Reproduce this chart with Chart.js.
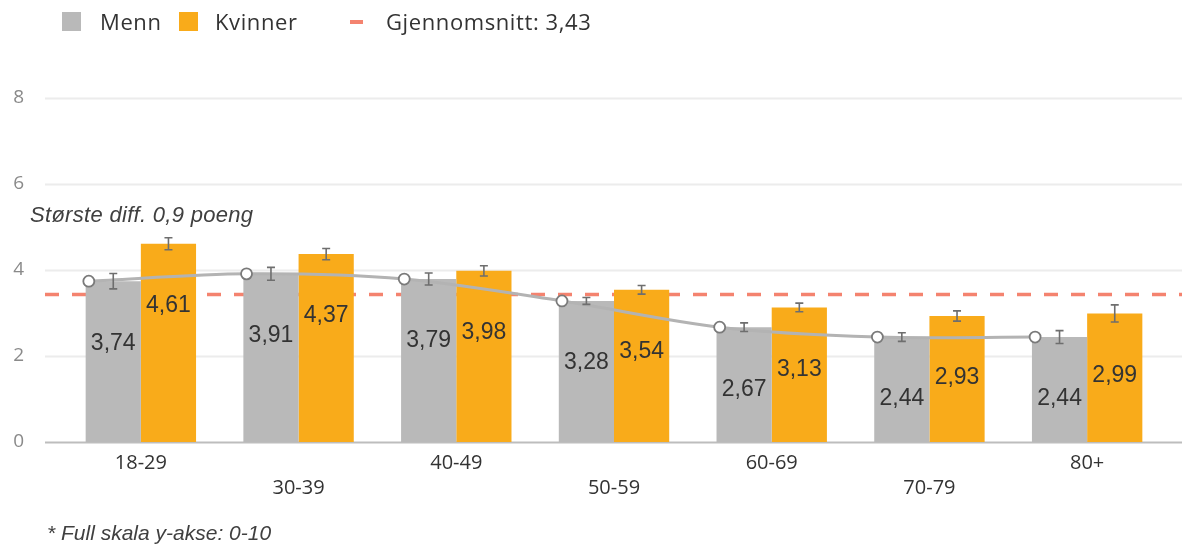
<!DOCTYPE html>
<html>
<head>
<meta charset="utf-8">
<script src="https://cdn.jsdelivr.net/npm/chart.js@4/dist/chart.umd.min.js"></script>
<style>
  html, body { margin: 0; padding: 0; background: #fff; }
  #wrap { position: relative; width: 1183px; height: 547px; overflow: hidden; }
  #chart { position: absolute; left: 0; top: 0; }
  .txt { position: absolute; white-space: nowrap; line-height: 1; color: #333; }
  .legend { font-family: "Open Sans", sans-serif; font-size: 22px; letter-spacing: 0.6px; top: 9.8px; }
  .swatch { position: absolute; top: 12px; width: 19px; height: 19px; }
  .note { font-family: "Liberation Sans", Arial, sans-serif; font-style: italic; font-size: 21px; color: #404040; }
</style>
</head>
<body>
<div id="wrap">
  <canvas id="chart" width="1183" height="547"></canvas>
  <div class="swatch" style="left:62px; background:#b9b9b9;"></div>
  <div class="txt legend" style="left:100px;">Menn</div>
  <div class="swatch" style="left:179px; background:#f9ab1a;"></div>
  <div class="txt legend" style="left:215px;">Kvinner</div>
  <div class="swatch" style="left:350px; top:20px; width:13px; height:3.5px; background:#f4836f;"></div>
  <div class="txt legend" style="left:386px;">Gjennomsnitt: 3,43</div>
  <div class="txt note" style="left:30px; top:203.5px; font-size:22px; letter-spacing:0.3px;">Største diff. 0,9 poeng</div>
  <div class="txt note" style="left:47px; top:522px;">* Full skala y-akse: 0-10</div>
</div>
<script>
const ageGroups = ['18-29', '30-39', '40-49', '50-59', '60-69', '70-79', '80+'];
const menn = [3.74, 3.91, 3.79, 3.28, 2.67, 2.44, 2.44];
const kvinner = [4.61, 4.37, 3.98, 3.54, 3.13, 2.93, 2.99];
const mennErr = [0.18, 0.15, 0.14, 0.08, 0.10, 0.10, 0.15];
const kvinnerErr = [0.14, 0.13, 0.12, 0.10, 0.10, 0.12, 0.20];
const average = 3.43;
const yTicks = [0, 2, 4, 6, 8];

// trend markers sit at the left edge of the grey bars
const lineShift = -0.33;

const GRID_LEFT = 45;
const GRID_RIGHT = 1182;

const fmt = v => v.toFixed(2).replace('.', ',');

// gridlines, base line and the dashed average, all behind the bars
const backdrop = {
    id: 'backdrop',
    beforeDatasetsDraw(chart) {
        const ctx = chart.ctx;
        const y = chart.scales.y;
        ctx.save();
        yTicks.forEach(t => {
            const py = Math.round(y.getPixelForValue(t)) + 0.5;
            ctx.strokeStyle = t === 0 ? '#bdbdbd' : '#ececec';
            ctx.lineWidth = 2;
            ctx.beginPath();
            ctx.moveTo(GRID_LEFT, py);
            ctx.lineTo(GRID_RIGHT, py);
            ctx.stroke();
        });
        const ay = y.getPixelForValue(average);
        ctx.strokeStyle = '#f4836f';
        ctx.lineWidth = 3.5;
        ctx.setLineDash([14, 13]);
        ctx.beginPath();
        ctx.moveTo(GRID_LEFT, ay);
        ctx.lineTo(GRID_RIGHT, ay);
        ctx.stroke();
        ctx.restore();
    }
};

// error bars and value labels on top of the bars
const barExtras = {
    id: 'barExtras',
    afterDatasetsDraw(chart) {
        const ctx = chart.ctx;
        const y = chart.scales.y;
        ctx.save();
        chart.data.datasets.forEach((ds, di) => {
            if (!ds.errors) return;
            const meta = chart.getDatasetMeta(di);
            meta.data.forEach((bar, i) => {
                const v = ds.data[i].y;
                const top = y.getPixelForValue(v + ds.errors[i]);
                const bot = y.getPixelForValue(v - ds.errors[i]);
                ctx.strokeStyle = '#6e6e6e';
                ctx.lineWidth = 1.6;
                ctx.beginPath();
                ctx.moveTo(bar.x, top);
                ctx.lineTo(bar.x, bot);
                ctx.moveTo(bar.x - 4, top);
                ctx.lineTo(bar.x + 4, top);
                ctx.moveTo(bar.x - 4, bot);
                ctx.lineTo(bar.x + 4, bot);
                ctx.stroke();

                ctx.fillStyle = '#333';
                ctx.font = '23px "Liberation Sans", Arial, sans-serif';
                ctx.textAlign = 'center';
                ctx.textBaseline = 'middle';
                ctx.fillText(fmt(v), bar.x, bar.y + 62);
            });
        });
        ctx.restore();
    }
};

const barStyle = { categoryPercentage: 0.7, barPercentage: 1, order: 1 };

new Chart(document.getElementById('chart'), {
    type: 'bar',
    data: {
        datasets: [{
            type: 'line',
            label: 'Menn trend',
            data: menn.map((v, i) => ({ x: i + lineShift, y: v })),
            borderColor: '#b3b3b3',
            borderWidth: 3,
            tension: 0.3,
            pointRadius: 5.5,
            pointBackgroundColor: '#fff',
            pointBorderColor: '#7a7a7a',
            pointBorderWidth: 1.8,
            order: 0
        }, {
            label: 'Menn',
            data: menn.map((v, i) => ({ x: i, y: v })),
            errors: mennErr,
            backgroundColor: '#b9b9b9',
            ...barStyle
        }, {
            label: 'Kvinner',
            data: kvinner.map((v, i) => ({ x: i, y: v })),
            errors: kvinnerErr,
            backgroundColor: '#f9ab1a',
            ...barStyle
        }]
    },
    options: {
        responsive: false,
        animation: false,
        layout: { padding: { left: 0, right: 17, top: 98, bottom: 0 } },
        plugins: {
            legend: { display: false },
            tooltip: { enabled: false }
        },
        scales: {
            x: {
                type: 'linear',
                min: -0.5,
                max: 6.5,
                offset: false,
                grid: { display: false, drawTicks: false, offset: false },
                border: { display: false },
                afterBuildTicks: s => { s.ticks = ageGroups.map((_, i) => ({ value: i })); },
                ticks: {
                    autoSkip: false,
                    maxRotation: 0,
                    padding: 9,
                    color: '#333',
                    font: { family: '"Open Sans", sans-serif', size: 20, lineHeight: '25px' },
                    callback: (v, i) => i % 2 ? ['', ageGroups[i]] : ageGroups[i]
                },
                afterFit: s => { s.height = 105; }
            },
            y: {
                min: 0,
                max: 8,
                grid: { display: false },
                border: { display: false },
                ticks: {
                    stepSize: 2,
                    padding: 30,
                    color: '#8a8a8a',
                    font: { family: '"Open Sans", sans-serif', size: 19 }
                },
                afterFit: s => { s.width = 62; }
            }
        }
    },
    plugins: [backdrop, barExtras]
});
</script>
</body>
</html>
